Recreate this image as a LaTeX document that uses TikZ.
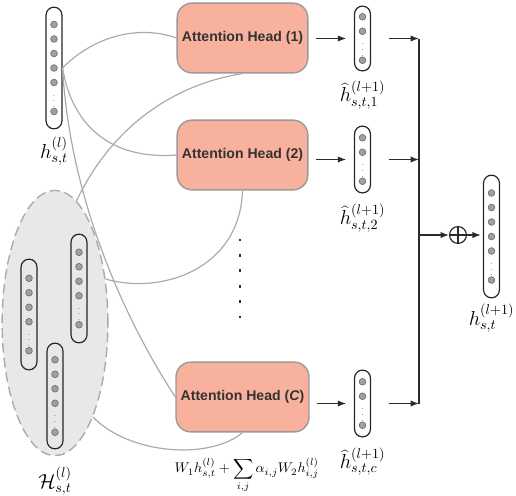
\documentclass[tikz,border=0pt]{standalone}
\usepackage{fontspec}
\newfontfamily\headfont{Liberation Sans}
\usetikzlibrary{arrows.meta,shapes.geometric}
\definecolor{headfill}{HTML}{F8B19C}
\definecolor{headline}{HTML}{9A9A9A}
\definecolor{linkgray}{HTML}{ABABAB}
\definecolor{dotfill}{HTML}{A0A0A0}
\definecolor{setfill}{HTML}{E7E8EA}
\definecolor{arrowc}{HTML}{2B2B2B}
\tikzset{
  head/.style={rectangle, rounded corners=10.5pt, draw=headline, line width=1pt, fill=headfill,
    minimum width=92.9pt, minimum height=49.6pt, font=\headfont\bfseries, text=black!80},
  vecbox/.style={rectangle, rounded corners=5.6pt, draw=black!85, line width=0.85pt,
    minimum width=11.3pt, inner sep=0pt},
  vdot/.style={fill=dotfill, draw=black!60, line width=0.4pt},
  link/.style={draw=linkgray, line width=0.85pt},
  flow/.style={draw=arrowc, line width=0.85pt, -{Latex[length=6pt,width=4.5pt]}},
  lbl/.style={font=\Large, inner sep=0pt, anchor=north}
}
\newcommand\colvec[5]{%
  \node[vecbox, minimum height=#4*0.709pt] (#1) at (#2,#3) {};
  \foreach \k in {1,...,#5}
    \filldraw[vdot] (#2,{#3+14.5*(\k-1-(#5+1)/2)}) circle[radius=2.4pt];
  \node[font=\tiny, inner sep=0pt] at (#2,{#3+14.5*(#5-(#5+1)/2)}) {$\vdots$};
  \filldraw[vdot] (#2,{#3+14.5*(#5+1)/2}) circle[radius=2.4pt];
}

\begin{document}
\begin{tikzpicture}[x=0.025cm, y=-0.025cm]
  \useasboundingbox (0,0) rectangle (516,496);

  \node[ellipse, draw=linkgray, line width=1pt, dash pattern=on 7pt off 3.5pt, fill=setfill,
    minimum width=75.2pt, minimum height=188.6pt] (H) at (55,323) {};
  \colvec{m1}{29}{314.5}{111}{4}
  \colvec{m2}{79}{288.5}{109}{4}
  \colvec{m3}{55}{396}{106}{4}
  \colvec{h}{54}{68}{122}{5}

  \node[head] (a1) at (242.5,38) {Attention Head (1)};
  \node[head] (a2) at (242.5,155) {Attention Head (2)};
  \node[head] (ac) at (242.5,397) {Attention Head (\textit{C})};
  \foreach \y in {240,255.4,...,318}
    \fill[arrowc] (240,\y) +(-1pt,-1pt) rectangle +(1pt,1pt);

  \draw[link] (h.east) .. controls (95,35) and (140,25) .. (a1.west);
  \draw[link] (h.east) .. controls (72,125) and (110,160) .. (a2.west);
  \draw[link] (h.east) .. controls (70,200) and (125,320) .. (ac.west);
  \draw[link] (H.80) .. controls (110,130) and (170,85) .. (a1.south);
  \draw[link] (H.41) .. controls (160,295) and (240,270) .. (a2.south);
  \draw[link] (H.-68) .. controls (130,455) and (210,460) .. (ac.south);

  \colvec{v1}{362.5}{38.5}{65}{2}
  \colvec{v2}{362.5}{159.5}{67}{2}
  \colvec{vc}{362.5}{403.5}{67}{2}
  \colvec{out}{491.5}{236.5}{123}{5}

  \coordinate (bt) at (419,38.5);
  \coordinate (bb) at (419,403.5);
  \draw[arrowc, line width=0.85pt] (bt) -- (bb);
  \node[circle, draw=arrowc, line width=0.85pt, minimum size=12pt, inner sep=0pt,
    path picture={\draw[arrowc, line width=0.85pt]
      (path picture bounding box.north) -- (path picture bounding box.south)
      (path picture bounding box.west) -- (path picture bounding box.east);}] (sum) at (458,235) {};

  \foreach \a/\v in {a1/v1, a2/v2, ac/vc} {
    \draw[flow, shorten <=5.5pt, shorten >=5.5pt] (\a.east |- \v.west) -- (\v.west);
    \draw[flow, shorten <=12.5pt] (\v.east) -- (\v.east -| bt);
  }
  \draw[flow] (bt |- sum) -- (sum.west);
  \draw[flow, shorten >=1.5pt] (sum.east) -- (sum.east -| out.west);

  \node[lbl] (hl) at ([yshift=-5.5pt]h.south) {$h_{s,t}^{(l)}$};
  \node[lbl] (v1l) at ([yshift=-6.5pt]v1.south) {$\widehat{h}_{s,t,1}^{(l+1)}$};
  \node[lbl] (v2l) at ([yshift=-7pt]v2.south) {$\widehat{h}_{s,t,2}^{(l+1)}$};
  \node[lbl] (vcl) at ([yshift=-7pt]vc.south) {$\widehat{h}_{s,t,c}^{(l+1)}$};
  \node[lbl] (outl) at ([yshift=-4pt]out.south) {$h_{s,t}^{(l+1)}$};
  \node[lbl] (Hl) at ([yshift=-7.5pt]H.south) {$\mathcal{H}_{s,t}^{(l)}$};
  \node[anchor=north, inner sep=0pt] (f) at ([xshift=3pt, yshift=-18pt]ac.south)
    {$\displaystyle W_1 h_{s,t}^{(l)} + \sum_{i,j} \alpha_{i,j} W_2 h_{i,j}^{(l)}$};
\end{tikzpicture}
\end{document}
